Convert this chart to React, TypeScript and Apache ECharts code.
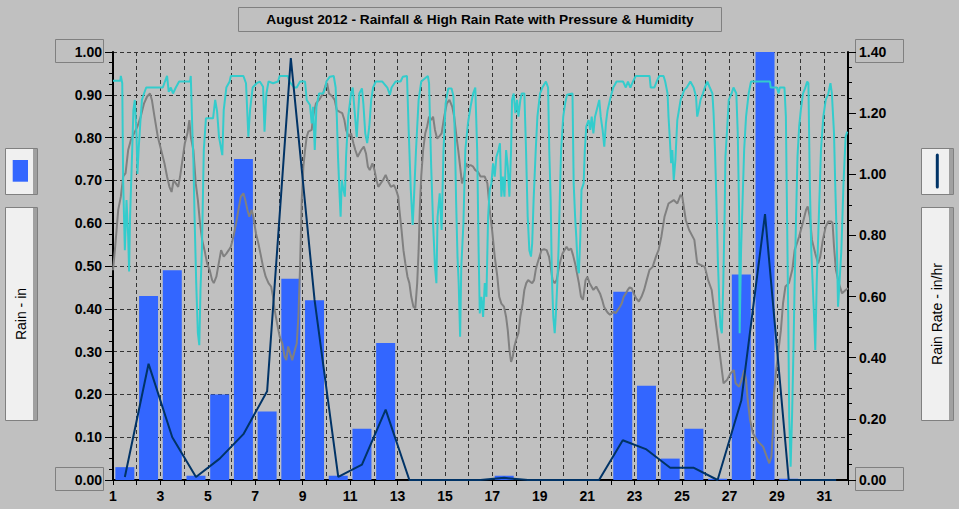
import { useEffect, useRef } from 'react';
import * as echarts from 'echarts';

// daily rainfall (in) per day of August 2012, bars sit in the middle of each day
const rainDays = Array.from({ length: 31 }, (_, i) => i + 1);
const rainTotals = [
  0.03, 0.43, 0.49, 0.01, 0.2, 0.75, 0.16, 0.47, 0.42, 0.01, 0.12, 0.32, 0, 0, 0, 0,
  0.01, 0, 0, 0, 0, 0.44, 0.22, 0.05, 0.12, 0.003, 0.48, 1.0, 0.003, 0, 0,
];
// daily high rain rate (in/hr)
const highRainRate = [
  0.01, 0.38, 0.14, 0.01, 0.07, 0.15, 0.29, 1.38, 0.59, 0.01, 0.05, 0.23, 0, 0, 0, 0,
  0.007, 0, 0, 0, 0, 0.13, 0.1, 0.04, 0.04, 0, 0.26, 0.87, 0, 0, 0,
];

// [day of month, scaled value on the rain axis]
const pressure: [number, number][] = [
  [1.0, 0.49], [1.08, 0.537], [1.15, 0.584], [1.22, 0.631], [1.33, 0.662], [1.43, 0.709], [1.53, 0.717],
  [1.64, 0.771], [1.75, 0.794], [1.89, 0.81], [2.03, 0.826], [2.17, 0.849], [2.31, 0.88], [2.44, 0.896],
  [2.56, 0.903], [2.64, 0.888], [2.75, 0.849], [2.89, 0.802], [3.03, 0.771], [3.17, 0.74], [3.28, 0.709],
  [3.38, 0.685], [3.47, 0.673], [3.56, 0.701], [3.65, 0.693], [3.75, 0.685], [3.83, 0.709], [3.93, 0.748],
  [4.03, 0.787], [4.14, 0.81], [4.22, 0.841], [4.28, 0.802], [4.39, 0.771], [4.49, 0.693], [4.58, 0.654],
  [4.67, 0.6], [4.76, 0.561], [4.86, 0.537], [4.97, 0.506], [5.08, 0.49], [5.18, 0.467], [5.25, 0.46],
  [5.36, 0.475], [5.46, 0.506], [5.56, 0.537], [5.67, 0.522], [5.78, 0.529], [5.88, 0.537], [5.97, 0.545],
  [6.08, 0.569], [6.19, 0.6], [6.29, 0.631], [6.39, 0.662], [6.5, 0.67], [6.58, 0.654], [6.67, 0.631],
  [6.75, 0.615], [6.85, 0.631], [6.92, 0.615], [7.03, 0.576], [7.13, 0.553], [7.22, 0.529], [7.33, 0.498],
  [7.44, 0.475], [7.56, 0.46], [7.67, 0.452], [7.75, 0.428], [7.82, 0.397], [7.92, 0.366], [8.03, 0.335],
  [8.14, 0.319], [8.24, 0.288], [8.31, 0.28], [8.39, 0.312], [8.47, 0.296], [8.56, 0.28], [8.67, 0.304],
  [8.75, 0.319], [8.82, 0.382], [8.89, 0.498], [8.96, 0.654], [9.03, 0.732], [9.1, 0.771], [9.17, 0.802],
  [9.24, 0.814], [9.38, 0.818], [9.44, 0.849], [9.56, 0.88], [9.69, 0.888], [9.86, 0.903], [9.97, 0.923],
  [10.03, 0.927], [10.11, 0.903], [10.25, 0.896], [10.35, 0.888], [10.44, 0.864], [10.56, 0.86], [10.67, 0.857],
  [10.76, 0.841], [10.83, 0.818], [10.94, 0.802], [11.04, 0.81], [11.14, 0.787], [11.22, 0.771], [11.32, 0.755],
  [11.39, 0.763], [11.47, 0.771], [11.58, 0.779], [11.67, 0.763], [11.75, 0.732], [11.83, 0.724], [11.94, 0.74],
  [12.03, 0.724], [12.11, 0.701], [12.19, 0.685], [12.29, 0.693], [12.39, 0.701], [12.5, 0.713], [12.61, 0.697],
  [12.72, 0.685], [12.85, 0.689], [12.94, 0.678], [13.03, 0.662], [13.08, 0.631], [13.17, 0.584], [13.25, 0.537],
  [13.33, 0.506], [13.42, 0.475], [13.5, 0.46], [13.58, 0.428], [13.67, 0.405], [13.75, 0.401], [13.83, 0.46],
  [13.89, 0.537], [13.94, 0.631], [14.0, 0.709], [14.08, 0.771], [14.17, 0.81], [14.25, 0.826], [14.33, 0.849],
  [14.42, 0.841], [14.5, 0.849], [14.58, 0.818], [14.67, 0.798], [14.75, 0.802], [14.86, 0.81], [14.97, 0.849],
  [15.08, 0.88], [15.19, 0.888], [15.31, 0.872], [15.39, 0.849], [15.47, 0.81], [15.56, 0.771], [15.64, 0.732],
  [15.72, 0.693], [15.81, 0.709], [15.89, 0.74], [15.97, 0.732], [16.08, 0.736], [16.19, 0.732], [16.28, 0.724],
  [16.39, 0.72], [16.5, 0.709], [16.68, 0.709], [16.79, 0.693], [16.89, 0.631], [16.99, 0.584], [17.1, 0.522],
  [17.21, 0.475], [17.29, 0.428], [17.38, 0.412], [17.49, 0.405], [17.58, 0.381], [17.65, 0.35], [17.72, 0.304],
  [17.79, 0.276], [17.86, 0.288], [17.93, 0.312], [18.0, 0.327], [18.1, 0.343], [18.18, 0.382], [18.28, 0.413],
  [18.35, 0.444], [18.43, 0.46], [18.51, 0.467], [18.6, 0.463], [18.68, 0.46], [18.76, 0.467], [18.83, 0.491],
  [18.9, 0.506], [18.99, 0.522], [19.07, 0.537], [19.18, 0.539], [19.29, 0.537], [19.39, 0.522], [19.46, 0.498],
  [19.54, 0.467], [19.63, 0.46], [19.71, 0.467], [19.79, 0.491], [19.88, 0.514], [19.96, 0.529], [20.04, 0.537],
  [20.13, 0.545], [20.22, 0.537], [20.32, 0.541], [20.4, 0.526], [20.49, 0.506], [20.57, 0.483], [20.65, 0.46],
  [20.74, 0.428], [20.82, 0.421], [20.88, 0.444], [20.93, 0.467], [21.01, 0.475], [21.1, 0.46], [21.18, 0.452],
  [21.26, 0.444], [21.38, 0.452], [21.46, 0.444], [21.54, 0.436], [21.63, 0.421], [21.71, 0.405], [21.79, 0.397],
  [21.88, 0.39], [21.96, 0.386], [22.04, 0.39], [22.13, 0.393], [22.21, 0.39], [22.29, 0.397], [22.38, 0.405],
  [22.46, 0.413], [22.54, 0.428], [22.63, 0.436], [22.71, 0.444], [22.79, 0.45], [22.88, 0.448], [22.96, 0.436],
  [23.07, 0.424], [23.18, 0.417], [23.29, 0.428], [23.4, 0.444], [23.51, 0.467], [23.63, 0.491], [23.76, 0.498],
  [23.9, 0.522], [24.01, 0.537], [24.13, 0.569], [24.26, 0.615], [24.43, 0.646], [24.65, 0.654], [24.8, 0.646],
  [24.94, 0.666], [25.01, 0.662], [25.16, 0.607], [25.3, 0.584], [25.52, 0.561], [25.64, 0.506], [25.96, 0.498],
  [26.1, 0.467], [26.25, 0.444], [26.39, 0.382], [26.54, 0.319], [26.68, 0.257], [26.75, 0.226], [26.9, 0.234],
  [27.04, 0.249], [27.19, 0.257], [27.26, 0.226], [27.41, 0.218], [27.55, 0.241], [27.62, 0.257], [27.7, 0.234],
  [27.77, 0.187], [27.87, 0.14], [27.99, 0.109], [28.2, 0.09], [28.42, 0.078], [28.57, 0.055], [28.68, 0.039],
  [28.77, 0.055], [28.83, 0.109], [28.88, 0.202], [28.97, 0.257], [29.07, 0.304], [29.17, 0.35], [29.26, 0.413],
  [29.36, 0.452], [29.51, 0.46], [29.65, 0.491], [29.75, 0.537], [29.94, 0.569], [30.09, 0.6], [30.23, 0.631],
  [30.3, 0.639], [30.39, 0.615], [30.48, 0.561], [30.62, 0.529], [30.74, 0.506], [30.83, 0.522], [30.94, 0.561],
  [31.06, 0.592], [31.17, 0.604], [31.29, 0.604], [31.35, 0.6], [31.41, 0.545], [31.49, 0.491], [31.61, 0.46],
  [31.75, 0.436], [31.9, 0.444], [32.0, 0.448],
];

const humidity: [number, number][] = [
  [1.0, 0.933], [1.31, 0.933], [1.33, 0.944], [1.39, 0.927], [1.43, 0.693], [1.5, 0.537], [1.57, 0.654],
  [1.64, 0.569], [1.68, 0.487], [1.72, 0.615], [1.81, 0.771], [1.86, 0.864], [1.92, 0.888], [1.99, 0.81],
  [2.03, 0.715], [2.08, 0.771], [2.15, 0.833], [2.22, 0.888], [2.31, 0.903], [2.4, 0.917], [3.1, 0.917],
  [3.19, 0.931], [3.28, 0.944], [3.35, 0.907], [3.44, 0.917], [3.53, 0.903], [3.65, 0.917], [3.79, 0.931],
  [4.25, 0.931], [4.28, 0.944], [4.35, 0.81], [4.39, 0.748], [4.44, 0.615], [4.51, 0.46], [4.58, 0.343],
  [4.64, 0.315], [4.69, 0.444], [4.75, 0.537], [4.83, 0.771], [4.92, 0.845], [5.22, 0.845], [5.31, 0.888],
  [5.39, 0.861], [5.47, 0.802], [5.61, 0.759], [5.67, 0.864], [5.78, 0.917], [5.92, 0.931], [5.97, 0.944],
  [6.5, 0.944], [6.61, 0.927], [6.71, 0.802], [6.78, 0.864], [6.89, 0.917], [7.06, 0.927], [7.19, 0.931],
  [7.33, 0.919], [7.39, 0.814], [7.47, 0.903], [7.56, 0.931], [7.75, 0.927], [7.96, 0.931], [8.03, 0.944],
  [8.38, 0.944], [8.44, 0.931], [8.65, 0.917], [8.75, 0.917], [8.89, 0.931], [9.1, 0.931], [9.17, 0.888],
  [9.31, 0.876], [9.38, 0.833], [9.44, 0.872], [9.51, 0.771], [9.58, 0.872], [9.69, 0.903], [9.86, 0.903],
  [9.96, 0.917], [10.0, 0.931], [10.14, 0.942], [10.31, 0.944], [10.39, 0.917], [10.44, 0.849], [10.49, 0.755],
  [10.56, 0.662], [10.6, 0.615], [10.65, 0.701], [10.72, 0.678], [10.78, 0.662], [10.83, 0.755], [10.92, 0.849],
  [11.04, 0.903], [11.11, 0.917], [11.21, 0.849], [11.28, 0.801], [11.33, 0.849], [11.39, 0.903], [11.5, 0.915],
  [11.56, 0.879], [11.64, 0.81], [11.72, 0.787], [11.81, 0.826], [11.89, 0.888], [11.97, 0.917], [12.08, 0.931],
  [12.36, 0.931], [12.57, 0.917], [12.68, 0.9], [12.75, 0.917], [12.92, 0.931], [13.13, 0.931], [13.22, 0.942],
  [13.4, 0.944], [13.47, 0.818], [13.56, 0.678], [13.64, 0.596], [13.69, 0.654], [13.78, 0.771], [13.89, 0.888],
  [14.0, 0.931], [14.28, 0.944], [14.33, 0.927], [14.42, 0.732], [14.5, 0.6], [14.58, 0.498], [14.64, 0.46],
  [14.69, 0.615], [14.78, 0.67], [14.86, 0.584], [14.94, 0.771], [15.03, 0.88], [15.14, 0.915], [15.28, 0.915],
  [15.36, 0.896], [15.42, 0.802], [15.47, 0.654], [15.53, 0.522], [15.58, 0.46], [15.64, 0.335], [15.69, 0.498],
  [15.78, 0.6], [15.86, 0.771], [15.97, 0.833], [16.08, 0.872], [16.19, 0.903], [16.28, 0.917], [16.36, 0.771],
  [16.42, 0.537], [16.47, 0.389], [16.54, 0.428], [16.61, 0.381], [16.68, 0.46], [16.75, 0.428], [16.82, 0.615],
  [16.89, 0.678], [16.96, 0.693], [17.03, 0.74], [17.1, 0.709], [17.17, 0.755], [17.26, 0.771], [17.32, 0.787],
  [17.38, 0.662], [17.44, 0.709], [17.51, 0.662], [17.58, 0.771], [17.65, 0.732], [17.72, 0.662], [17.79, 0.771],
  [17.83, 0.888], [17.9, 0.903], [17.97, 0.857], [18.04, 0.888], [18.1, 0.849], [18.18, 0.888], [18.24, 0.903],
  [18.35, 0.903], [18.42, 0.771], [18.49, 0.615], [18.56, 0.537], [18.63, 0.522], [18.68, 0.553], [18.74, 0.654],
  [18.83, 0.771], [18.9, 0.849], [19.01, 0.903], [19.11, 0.917], [19.26, 0.931], [19.35, 0.917], [19.4, 0.771],
  [19.46, 0.654], [19.51, 0.475], [19.57, 0.381], [19.63, 0.343], [19.68, 0.389], [19.74, 0.46], [19.79, 0.537],
  [19.85, 0.67], [19.9, 0.771], [19.99, 0.849], [20.07, 0.88], [20.15, 0.9], [20.38, 0.903], [20.43, 0.693],
  [20.49, 0.615], [20.54, 0.568], [20.6, 0.498], [20.65, 0.483], [20.71, 0.568], [20.76, 0.678], [20.85, 0.693],
  [20.9, 0.771], [20.96, 0.826], [21.06, 0.841], [21.13, 0.818], [21.19, 0.849], [21.26, 0.81], [21.33, 0.849],
  [21.4, 0.864], [21.51, 0.888], [21.57, 0.849], [21.65, 0.818], [21.72, 0.779], [21.79, 0.833], [21.86, 0.864],
  [21.96, 0.888], [22.03, 0.903], [22.1, 0.917], [22.24, 0.931], [22.51, 0.931], [22.63, 0.917], [22.72, 0.931],
  [22.82, 0.917], [22.93, 0.931], [23.05, 0.944], [23.63, 0.944], [23.68, 0.917], [23.83, 0.917], [23.93, 0.931],
  [24.04, 0.944], [24.22, 0.944], [24.29, 0.931], [24.39, 0.903], [24.43, 0.849], [24.48, 0.802], [24.54, 0.74],
  [24.59, 0.771], [24.65, 0.701], [24.72, 0.748], [24.8, 0.841], [24.87, 0.864], [24.94, 0.888], [25.09, 0.911],
  [25.2, 0.917], [25.35, 0.931], [25.49, 0.917], [25.59, 0.896], [25.64, 0.849], [25.7, 0.864], [25.78, 0.888],
  [25.88, 0.903], [25.96, 0.917], [26.07, 0.931], [26.17, 0.917], [26.28, 0.903], [26.33, 0.857], [26.39, 0.771],
  [26.45, 0.654], [26.51, 0.514], [26.57, 0.42], [26.62, 0.358], [26.68, 0.343], [26.74, 0.46], [26.8, 0.631],
  [26.83, 0.755], [26.9, 0.818], [26.97, 0.888], [27.09, 0.903], [27.17, 0.917], [27.29, 0.903], [27.35, 0.81],
  [27.41, 0.615], [27.43, 0.343], [27.49, 0.537], [27.55, 0.646], [27.62, 0.771], [27.7, 0.849], [27.81, 0.903],
  [27.91, 0.931], [28.71, 0.931], [28.74, 0.917], [29.0, 0.917], [29.07, 0.903], [29.12, 0.917], [29.32, 0.917],
  [29.38, 0.849], [29.43, 0.615], [29.48, 0.381], [29.52, 0.148], [29.58, 0.031], [29.64, 0.148], [29.7, 0.304],
  [29.75, 0.46], [29.81, 0.615], [29.87, 0.755], [29.94, 0.826], [30.01, 0.864], [30.1, 0.903], [30.19, 0.915],
  [30.28, 0.931], [30.33, 0.927], [30.39, 0.693], [30.45, 0.537], [30.51, 0.46], [30.57, 0.381], [30.62, 0.304],
  [30.68, 0.46], [30.77, 0.615], [30.86, 0.771], [30.96, 0.849], [31.06, 0.888], [31.17, 0.903], [31.26, 0.927],
  [31.32, 0.903], [31.41, 0.81], [31.46, 0.693], [31.52, 0.576], [31.58, 0.405], [31.64, 0.46], [31.72, 0.537],
  [31.81, 0.693], [31.9, 0.802], [31.97, 0.814],
];

const TITLE = 'August 2012 - Rainfall & High Rain Rate with Pressure & Humidity';
const FONT = '"Liberation Sans", Arial, sans-serif';

const BAR_BLUE = '#3366ff';
const RATE_NAVY = '#003366';
const HUM_CYAN = '#33cccc';
const PRESS_GREY = '#808080';
const GRID_DASH = { color: '#333333', type: [4, 3] as number[], width: 1 };

// outlined box used behind titles and end-of-axis labels
const outlineBox = (x: number, y: number, w: number, h: number) => ({
  type: 'rect',
  silent: true,
  shape: { x, y, width: w, height: h },
  style: { fill: 'none', stroke: '#808080', lineWidth: 1 },
});

// raised side panel (legend swatch / axis name)
const panel = (x: number, y: number, w: number, h: number) => [
  {
    type: 'rect',
    silent: true,
    shape: { x, y, width: w, height: h },
    style: { fill: '#f0f0f0', stroke: '#808080', lineWidth: 1 },
  },
  {
    type: 'rect',
    silent: true,
    shape: { x: x + w - 4.5, y: y + 0.5, width: 4, height: h - 1 },
    style: { fill: '#a0a0a0' },
  },
];

export default function App() {
  const chartRef = useRef<HTMLDivElement>(null);

  useEffect(() => {
    if (!chartRef.current) return;
    const chart = echarts.init(chartRef.current, null, { renderer: 'svg' });

    const axisText = { color: '#000', fontFamily: FONT, fontWeight: 'bold' as const, fontSize: 14 };

    const option: echarts.EChartsOption = {
      animation: false,
      backgroundColor: '#c0c0c0',
      grid: { left: 113, right: 111, top: 52, bottom: 29, containLabel: false },
      xAxis: {
        type: 'value',
        min: 1,
        max: 32,
        interval: 1,
        axisLine: { show: true, lineStyle: { color: '#000', width: 2 } },
        axisTick: { show: true, length: 5, lineStyle: { color: '#000', width: 1 } },
        axisLabel: {
          ...axisText,
          margin: 9,
          formatter: (v: number) => (v % 2 === 1 ? String(v) : ''),
        },
        splitLine: { show: true, lineStyle: GRID_DASH },
      },
      yAxis: [
        {
          type: 'value',
          min: 0,
          max: 1,
          interval: 0.1,
          position: 'left',
          axisLine: { show: true, lineStyle: { color: '#000', width: 2 } },
          axisTick: { show: true, length: 8, lineStyle: { color: '#000' } },
          minorTick: { show: true, splitNumber: 4, length: 4, lineStyle: { color: '#000' } },
          axisLabel: { ...axisText, margin: 11, formatter: (v: number) => v.toFixed(2) },
          splitLine: { show: true, lineStyle: GRID_DASH },
        },
        {
          type: 'value',
          min: 0,
          max: 1.4,
          interval: 0.2,
          position: 'right',
          axisLine: { show: true, lineStyle: { color: '#000', width: 2 } },
          axisTick: { show: true, length: 8, lineStyle: { color: '#000' } },
          minorTick: { show: true, splitNumber: 4, length: 4, lineStyle: { color: '#000' } },
          axisLabel: { ...axisText, margin: 11, formatter: (v: number) => v.toFixed(2) },
          splitLine: { show: false },
        },
      ],
      series: [
        {
          name: 'Rain',
          type: 'bar',
          yAxisIndex: 0,
          barWidth: 19,
          data: rainDays.map((d, i) => [d + 0.5, rainTotals[i]]),
          itemStyle: { color: BAR_BLUE },
          silent: true,
          z: 2,
        },
        {
          name: 'Pressure',
          type: 'line',
          yAxisIndex: 0,
          data: pressure,
          showSymbol: false,
          lineStyle: { color: PRESS_GREY, width: 2 },
          silent: true,
          z: 3,
        },
        {
          name: 'Humidity',
          type: 'line',
          yAxisIndex: 0,
          data: humidity,
          showSymbol: false,
          lineStyle: { color: HUM_CYAN, width: 2 },
          silent: true,
          z: 4,
        },
        {
          name: 'High Rain Rate',
          type: 'line',
          yAxisIndex: 1,
          data: rainDays.map((d, i) => [d + 0.5, highRainRate[i]]),
          showSymbol: false,
          lineStyle: { color: RATE_NAVY, width: 2 },
          silent: true,
          z: 5,
        },
      ],
      graphic: [
        outlineBox(238.5, 7.5, 483, 24),
        {
          type: 'text',
          silent: true,
          x: 480,
          y: 19.5,
          style: {
            text: TITLE,
            fill: '#000',
            font: `bold 13.7px ${FONT}`,
            align: 'center',
            verticalAlign: 'middle',
          },
        },
        outlineBox(55.5, 39.5, 48, 23),
        outlineBox(55.5, 467.5, 48, 23),
        outlineBox(855.5, 39.5, 48, 23),
        outlineBox(855.5, 467.5, 48, 23),
        ...panel(5.5, 148.5, 32, 46),
        {
          type: 'rect',
          silent: true,
          shape: { x: 12.7, y: 160, width: 15.3, height: 21.7 },
          style: { fill: BAR_BLUE },
        },
        ...panel(5.5, 207.5, 32, 213),
        {
          type: 'text',
          silent: true,
          x: 21,
          y: 314,
          rotation: Math.PI / 2,
          style: {
            text: 'Rain - in',
            fill: '#000',
            font: `14px ${FONT}`,
            align: 'center',
            verticalAlign: 'middle',
          },
        },
        ...panel(921.5, 148.5, 32, 46),
        {
          type: 'line',
          silent: true,
          shape: { x1: 937.3, y1: 155, x2: 937.3, y2: 187 },
          style: { stroke: RATE_NAVY, lineWidth: 3, lineCap: 'round' },
        },
        ...panel(921.5, 207.5, 32, 213),
        {
          type: 'text',
          silent: true,
          x: 936.5,
          y: 314,
          rotation: Math.PI / 2,
          style: {
            text: 'Rain Rate - in/hr',
            fill: '#000',
            font: `14px ${FONT}`,
            align: 'center',
            verticalAlign: 'middle',
          },
        },
      ],
    };

    chart.setOption(option);

    return () => {
      chart.dispose();
    };
  }, []);

  return (
    <div
      ref={chartRef}
      style={{ position: 'fixed', left: 0, top: 0, width: 959, height: 509 }}
    />
  );
}
